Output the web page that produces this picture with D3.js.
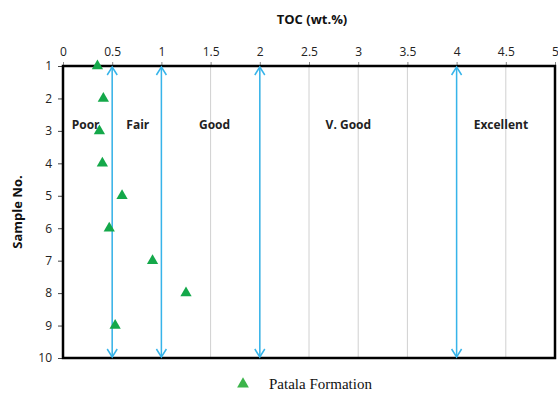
<!DOCTYPE html>
<html>
<head>
<meta charset="utf-8">
<script src="https://cdn.jsdelivr.net/npm/d3@7"></script>
<style>
body { margin: 0; background: #fff; }
svg text { font-family: "Open Sans", "Liberation Sans", Arial, sans-serif; }
</style>
</head>
<body>
<svg width="558" height="394"></svg>
<script>
// TOC values per sample
const samples = [1, 2, 3, 4, 5, 6, 7, 8, 9]
const toc = [0.35, 0.41, 0.37, 0.40, 0.60, 0.47, 0.91, 1.25, 0.53]
const xTicks = [0, 0.5, 1, 1.5, 2, 2.5, 3, 3.5, 4, 4.5, 5]
const yTicks = [1, 2, 3, 4, 5, 6, 7, 8, 9, 10]
const boundaries = [0.5, 1, 2, 4]
const classes = [
	{ name: "Poor", at: 0.23 },
	{ name: "Fair", at: 0.76 },
	{ name: "Good", at: 1.54 },
	{ name: "V. Good", at: 2.9 },
	{ name: "Excellent", at: 4.45 },
]

const svg = d3.select("svg")
const margin = { left: 63, right: 3, top: 66, bottom: 36 }
const width = 558, height = 394

const x = d3.scaleLinear().domain([0, 5]).range([margin.left, width - margin.right])
const y = d3.scaleLinear().domain([1, 10]).range([margin.top, height - margin.bottom])

// vertical grid
svg.append("g")
	.selectAll("line")
	.data(xTicks.slice(1, -1))
	.join("line")
	.attr("x1", d => x(d)).attr("x2", d => x(d))
	.attr("y1", y(1)).attr("y2", y(10))
	.attr("stroke", "#d0d0d0")
	.attr("stroke-width", 1)

// top axis
const xAxis = svg.append("g")
	.attr("transform", `translate(0,${y(1)})`)
	.call(d3.axisTop(x).tickValues(xTicks).tickSize(4).tickPadding(6).tickFormat(d3.format("~g")))
xAxis.select(".domain").remove()
xAxis.selectAll("text").attr("font-size", 12).attr("fill", "#222")
xAxis.selectAll("line").attr("stroke", "#888")

// left axis
const yAxis = svg.append("g")
	.attr("transform", `translate(${x(0)},0)`)
	.call(d3.axisLeft(y).tickValues(yTicks).tickSize(5).tickPadding(6))
yAxis.select(".domain").remove()
yAxis.selectAll("text").attr("font-size", 12).attr("fill", "#222")
yAxis.selectAll("line").attr("stroke", "#444")

// frame
svg.append("rect")
	.attr("x", x(0)).attr("y", y(1))
	.attr("width", x(5) - x(0)).attr("height", y(10) - y(1))
	.attr("fill", "none")
	.attr("stroke", "#000")
	.attr("stroke-width", 2.5)

// boundary arrows
const arrowColor = "#36b4ea"
const arrows = svg.append("g")
	.selectAll("g")
	.data(boundaries)
	.join("g")
	.attr("stroke", arrowColor)
	.attr("stroke-width", 1.5)
	.attr("fill", "none")
arrows.append("line")
	.attr("x1", d => x(d)).attr("x2", d => x(d))
	.attr("y1", y(1) + 1).attr("y2", y(10) - 1)
arrows.append("path")
	.attr("d", d => `M${x(d) - 5},${y(1) + 9} L${x(d)},${y(1) + 1} L${x(d) + 5},${y(1) + 9}`)
arrows.append("path")
	.attr("d", d => `M${x(d) - 5},${y(10) - 9} L${x(d)},${y(10) - 1} L${x(d) + 5},${y(10) - 9}`)

// class labels
svg.append("g")
	.selectAll("text")
	.data(classes)
	.join("text")
	.attr("x", d => x(d.at))
	.attr("y", y(2.93))
	.attr("text-anchor", "middle")
	.attr("font-size", 12)
	.attr("font-weight", "bold")
	.attr("fill", "#222")
	.text(d => d.name)

// points
const tri = d3.symbol().type(d3.symbolTriangle).size(55)
svg.append("g")
	.selectAll("path")
	.data(samples)
	.join("path")
	.attr("transform", (d, i) => `translate(${x(toc[i])},${y(d)})`)
	.attr("d", tri)
	.attr("fill", "#14a84a")

// axis titles
svg.append("text")
	.attr("x", 312).attr("y", 24)
	.attr("text-anchor", "middle")
	.attr("font-size", 13)
	.attr("font-weight", "bold")
	.attr("fill", "#111")
	.text("TOC (wt.%)")

svg.append("text")
	.attr("transform", `translate(22,${(y(1) + y(10)) / 2}) rotate(-90)`)
	.attr("text-anchor", "middle")
	.attr("font-size", 13)
	.attr("font-weight", "bold")
	.attr("fill", "#111")
	.text("Sample No.")

// legend
const legend = svg.append("g").attr("transform", "translate(243,384)")
legend.append("path").attr("d", d3.symbol().type(d3.symbolTriangle).size(60)).attr("fill", "#3cb44b")
legend.append("text")
	.attr("x", 26).attr("y", 5)
	.style("font-family", "'Liberation Serif', 'Times New Roman', serif")
	.attr("font-size", 15)
	.attr("fill", "#111")
	.text("Patala Formation")
</script>
</body>
</html>
